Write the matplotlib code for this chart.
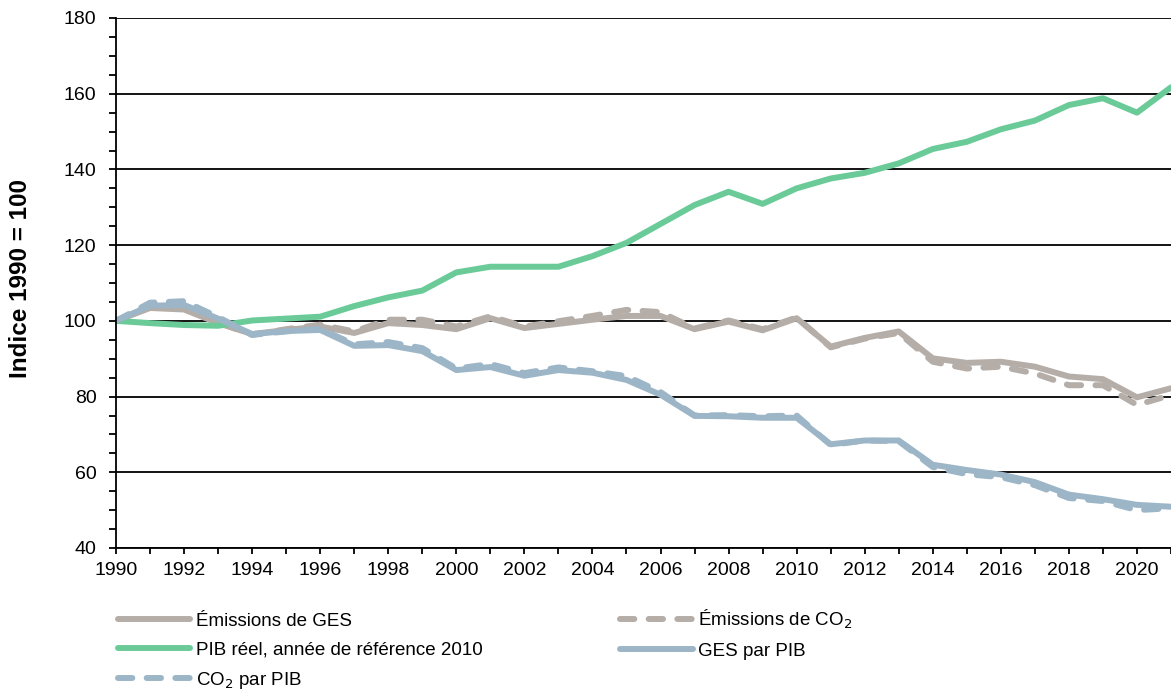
import numpy as np
import matplotlib
matplotlib.use("Agg")
import matplotlib.pyplot as plt
from matplotlib.ticker import MultipleLocator

plt.rcParams['font.family'] = ['Liberation Sans', 'DejaVu Sans']

years = np.arange(1990, 2022)

ges = [100, 103.4, 103.0, 99.4, 96.5, 97.6, 98.5, 96.8, 99.4, 98.9, 97.8, 100.7,
       98.1, 99.2, 100.3, 101.3, 101.3, 97.8, 99.8, 97.5, 100.7, 93.2,
       95.5, 97.2, 90.1, 88.9, 89.2, 87.9, 85.3, 84.6, 79.8, 82.2]
co2 = [100, 104.2, 104.0, 99.6, 96.3, 97.8, 99.0, 97.2, 100.3, 100.3, 98.5, 101.2,
       98.5, 99.9, 101.3, 102.9, 102.3, 98.0, 100.1, 97.8, 100.9, 93.0,
       95.3, 96.8, 89.2, 87.4, 87.9, 86.1, 83.0, 83.0, 77.8, 80.4]
pib = [100, 99.4, 98.9, 98.7, 100.1, 100.6, 101.1, 103.9, 106.2, 108.0,
       112.8, 114.3, 114.3, 114.3, 117.1, 120.6, 125.6, 130.6, 134.1, 130.9,
       135.0, 137.6, 139.1, 141.6, 145.4, 147.3, 150.6, 152.9, 157.0, 158.8, 155.0, 161.7]
ges_pib = [100, 104.0, 104.2, 100.6, 96.5, 97.3, 97.6, 93.4, 93.6, 92.0, 87.0, 87.8,
           85.5, 87.0, 86.3, 84.4, 80.5, 74.9, 74.8, 74.4, 74.4, 67.4,
           68.4, 68.4, 62.0, 60.6, 59.4, 57.4, 54.1, 52.9, 51.4, 50.9]
co2_pib = [100, 104.8, 105.2, 101.0, 96.3, 97.2, 97.9, 93.8, 94.4, 92.8, 87.4, 88.6,
           86.2, 87.7, 86.7, 85.4, 81.2, 75.0, 75.1, 74.8, 75.0, 67.2,
           68.4, 68.2, 61.4, 59.5, 58.7, 56.6, 53.2, 52.4, 50.0, 50.5]

GRAY = '#b5ada7'
GREEN = '#6acb98'
BLUE = '#9db6c7'
LW = 4.3
DASH = (0, (2.4, 2.4))

fig = plt.figure(figsize=(11.71, 6.95), dpi=100)
ax = fig.add_axes([116 / 1171, 1 - 548 / 695, 1 - 116 / 1171, (548 - 18) / 695])

l_ges, = ax.plot(years, ges, color=GRAY, lw=LW, solid_capstyle='round',
                 label="Émissions de GES")
l_co2, = ax.plot(years, co2, color=GRAY, lw=LW, ls=DASH,
                 dash_capstyle='round', label="Émissions de CO$_2$")
l_pib, = ax.plot(years, pib, color=GREEN, lw=LW, solid_capstyle='round',
                 label="PIB réel, année de référence 2010")
l_gp, = ax.plot(years, ges_pib, color=BLUE, lw=LW, solid_capstyle='round',
                label="GES par PIB")
l_cp, = ax.plot(years, co2_pib, color=BLUE, lw=LW, ls=DASH,
                dash_capstyle='round', label="CO$_2$ par PIB")

ax.set_xlim(1990, 2021)
ax.set_ylim(40, 180)
ax.xaxis.set_major_locator(MultipleLocator(2))
ax.xaxis.set_minor_locator(MultipleLocator(1))
ax.yaxis.set_major_locator(MultipleLocator(20))
ax.yaxis.set_minor_locator(MultipleLocator(5))
ax.tick_params(which='both', direction='out', length=5, width=1.3, color='black',
               labelsize=14)
ax.tick_params(axis='y', which='major', pad=9)
ax.tick_params(axis='x', which='both', length=4)
ax.tick_params(axis='x', which='major', pad=6)

ax.grid(axis='y', which='major', color='black', lw=1.3)
ax.set_axisbelow(True)
for s in ['top', 'right']:
    ax.spines[s].set_visible(False)
for s in ['left', 'bottom']:
    ax.spines[s].set_linewidth(1.3)
    ax.spines[s].set_zorder(5)

fig.text(21 / 1171, 1 - 278 / 695, "Indice 1990 = 100", rotation=90,
         ha='center', va='center', fontsize=17.5, fontweight='bold')

fig.legend(handles=[l_ges, l_pib, l_cp, l_co2, l_gp], ncol=2, frameon=False,
           loc='upper left', bbox_to_anchor=(118 / 1171, 1 - 608 / 695),
           fontsize=13.5, handlelength=3.85, handletextpad=0.3,
           columnspacing=7.35, labelspacing=0.61, borderpad=0, borderaxespad=0)

fig.savefig("out.png", dpi=100)
